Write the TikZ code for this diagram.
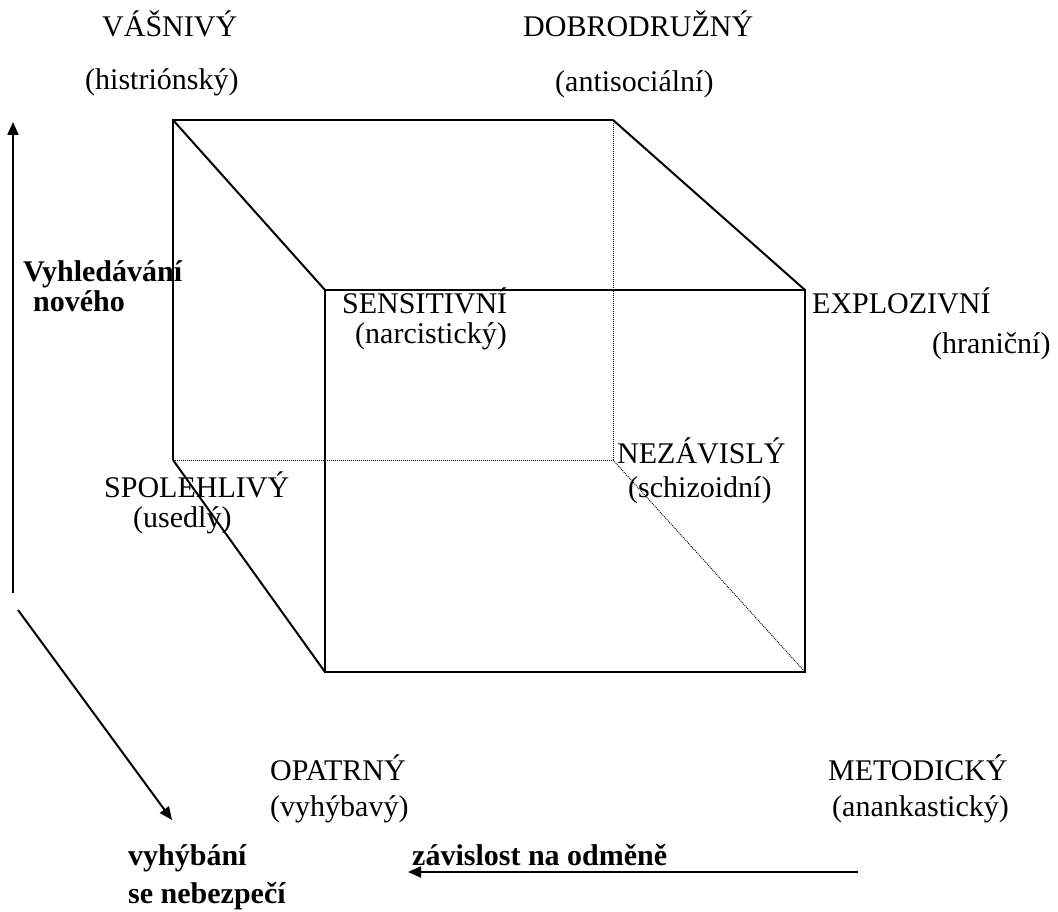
\documentclass[tikz,border=0pt]{standalone}
\usepackage{fontspec}
\setmainfont{Liberation Serif}
\usetikzlibrary{arrows.meta}
\tikzset{
  lbl/.style={anchor=base west,inner sep=0pt,font=\fontsize{30}{36}\selectfont},
  blbl/.style={lbl,font=\fontsize{30}{36}\selectfont\bfseries},
  edge/.style={line width=2pt},
  hidden/.style={line width=0.9pt,dash pattern=on 1pt off 1pt},
  axis/.style={line width=2pt,-{Triangle[length=13pt,width=11pt]}}
}
\begin{document}
\begin{tikzpicture}[x=1pt,y=-1pt]
        \useasboundingbox (0,0) rectangle (1058,912);
        %%%%%%%%% Vrcholy %%%%%%%%%%
        \coordinate (bTL) at (173,120);
        \coordinate (bTR) at (613,120);
        \coordinate (bBL) at (173,460);
        \coordinate (bBR) at (613,460);
        \coordinate (fTL) at (325,290);
        \coordinate (fTR) at (805,290);
        \coordinate (fBL) at (325,672);
        \coordinate (fBR) at (805,672);

        %%%%%%%%% Hrany %%%%%%%%%%
        \draw[edge] (bBL) -- (bTL) -- (bTR);
        \draw[edge] (fTL) rectangle (fBR);
        \draw[edge] (bTL) -- (fTL);
        \draw[edge] (bTR) -- (fTR);
        \draw[edge] (bBL) -- (fBL);
        \draw[hidden] (bBL) -- (bBR) -- (bTR);
        \draw[hidden] (bBR) -- (fBR);

        %%%%%%%%% Texty %%%%%%%%%%
        \node[lbl] (vasn) at (102,37) {VÁŠNIVÝ};
        \node[lbl] (hist) at (85,90) {(histriónský)};
        \node[lbl] (dobr) at (523,37) {DOBRODRUŽNÝ};
        \node[lbl] (anti) at (555,92) {(antisociální)};
        \node[lbl] (sens) at (342,313) {SENSITIVNÍ};
        \node[lbl] (narc) at (355,343) {(narcistický)};
        \node[lbl] (expl) at (812,313) {EXPLOZIVNÍ};
        \node[lbl] (hran) at (932,353) {(hraniční)};
        \node[lbl] (neza) at (617,463) {NEZÁVISLÝ};
        \node[lbl] (schi) at (628,497) {(schizoidní)};
        \node[lbl] (spol) at (104,497) {SPOLEHLIVÝ};
        \node[lbl] (used) at (133,527) {(usedlý)};
        \node[lbl] (opat) at (270,780) {OPATRNÝ};
        \node[lbl] (vyhy) at (270,816) {(vyhýbavý)};
        \node[lbl] (meto) at (828,780) {METODICKÝ};
        \node[lbl] (anan) at (832,816) {(anankastický)};

        %%%%%%%%% Osy %%%%%%%%%%
        \node[blbl] (nov1) at (23,282) {Vyhledávání};
        \node[blbl] (nov2) at (33,311) {nového};
        \node[blbl] (neb1) at (128,865) {vyhýbání};
        \node[blbl] (neb2) at (128,903) {se nebezpečí};
        \node[blbl] (odme) at (412,865) {závislost na odměně};

        \coordinate (upS) at (13,593);
        \coordinate (upE) at (13,122);
        \coordinate (dgS) at (18,610);
        \coordinate (dgE) at (172,820);
        \coordinate (hzS) at (858,872);
        \coordinate (hzE) at (408,872);
        \draw[axis] (upS) -- (upE);
        \draw[axis] (dgS) -- (dgE);
        \draw[axis] (hzS) -- (hzE);
    \end{tikzpicture}
\end{document}
